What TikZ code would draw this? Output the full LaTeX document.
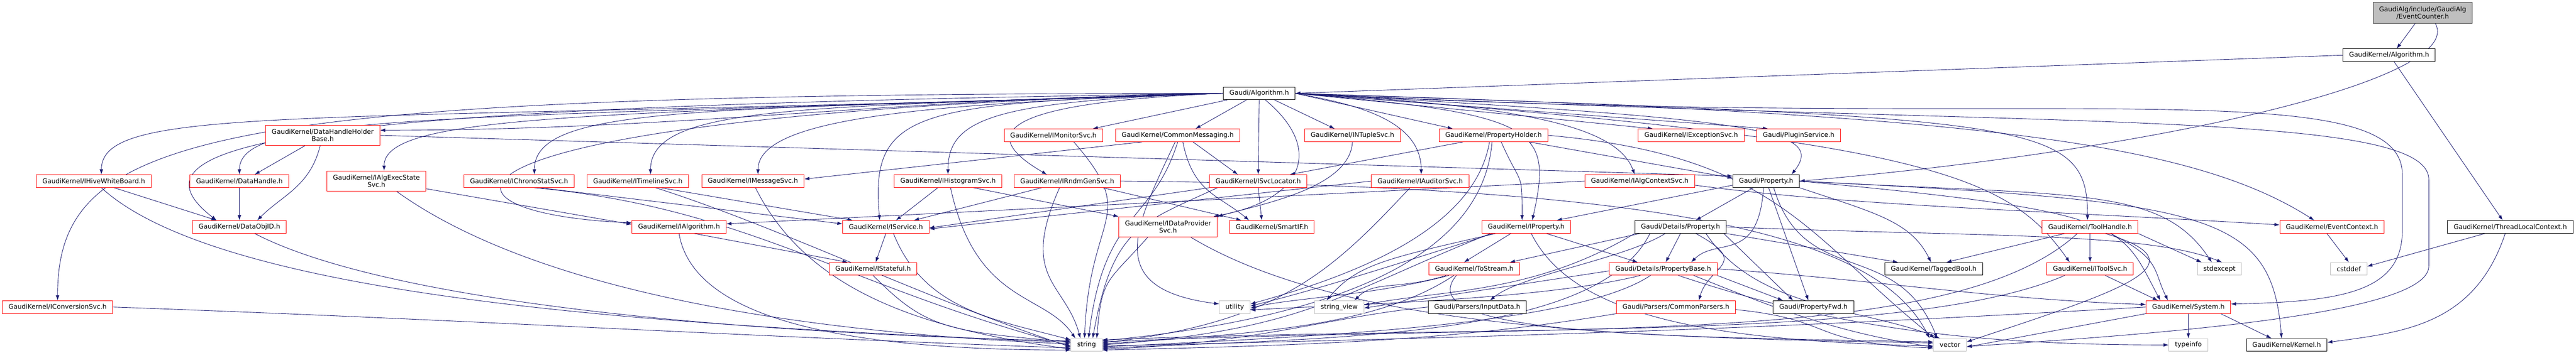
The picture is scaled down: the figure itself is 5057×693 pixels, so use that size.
\documentclass[tikz,border=0pt]{standalone}
\usepackage{fontspec}
\setmainfont{DejaVu Sans}
\usetikzlibrary{arrows.meta, backgrounds}
\definecolor{edgeblue}{RGB}{25,25,112}
\definecolor{cutred}{RGB}{255,0,0}
\tikzstyle{hdrbox} = [rectangle, draw=black, line width=1pt, fill=white, minimum height=25pt, inner xsep=12pt, inner ysep=2pt, align=center, text=black, font=\fontsize{12.8}{14.5}\selectfont]
\tikzstyle{hdrred} = [hdrbox, draw=cutred]
\tikzstyle{hdrgray} = [hdrbox, draw=black!25]
\tikzstyle{hdrmain} = [hdrbox, draw=black!75, fill=black!25, minimum height=41pt]
\tikzstyle{dep} = [draw=edgeblue, line width=0.9pt, -{Latex[length=10pt,width=7pt]}]

\begin{document}
\begin{tikzpicture}[x=1pt, y=1pt]
	\useasboundingbox (0,0) rectangle (5057,693);
	% top of the graph
	\node[hdrmain] (ec) at (4756,667.5) {GaudiAlg/include/GaudiAlg\\/EventCounter.h};
	\node[hdrbox] (gkalg) at (4690,584.5) {GaudiKernel/Algorithm.h};
	\node[hdrbox] (ga) at (2472,509.5) {Gaudi/Algorithm.h};
	% row 2
	\node[hdrred, minimum height=40pt] (dhhb) at (633.5,427) {GaudiKernel/DataHandleHolder\\Base.h};
	\node[hdrred] (imon) at (2068,427) {GaudiKernel/IMonitorSvc.h};
	\node[hdrred] (cmsg) at (2312,427) {GaudiKernel/CommonMessaging.h};
	\node[hdrred] (ntup) at (2655,427) {GaudiKernel/INTupleSvc.h};
	\node[hdrred] (phold) at (2932,427) {GaudiKernel/PropertyHolder.h};
	\node[hdrred] (iexc) at (3320,427) {GaudiKernel/IExceptionSvc.h};
	\node[hdrred] (plug) at (3531,427) {Gaudi/PluginService.h};
	% row 3
	\node[hdrred] (ihwb) at (184,337) {GaudiKernel/IHiveWhiteBoard.h};
	\node[hdrred] (dh) at (470,337) {GaudiKernel/DataHandle.h};
	\node[hdrred, minimum height=40pt] (iaes) at (739,337) {GaudiKernel/IAlgExecState\\Svc.h};
	\node[hdrred] (ichr) at (1019,337) {GaudiKernel/IChronoStatSvc.h};
	\node[hdrred] (itl) at (1252,337) {GaudiKernel/ITimelineSvc.h};
	\node[hdrred] (imsg) at (1478,337) {GaudiKernel/IMessageSvc.h};
	\node[hdrred] (ihist) at (1861,337) {GaudiKernel/IHistogramSvc.h};
	\node[hdrred] (irndm) at (2095,337) {GaudiKernel/IRndmGenSvc.h};
	\node[hdrred] (isvcl) at (2470,337) {GaudiKernel/ISvcLocator.h};
	\node[hdrred] (iaud) at (2788,337) {GaudiKernel/IAuditorSvc.h};
	\node[hdrred] (iactx) at (3219,337) {GaudiKernel/IAlgContextSvc.h};
	\node[hdrbox] (gprop) at (3467,337) {Gaudi/Property.h};
	% row 4
	\node[hdrred] (doid) at (470,247) {GaudiKernel/DataObjID.h};
	\node[hdrred] (ialg) at (1333,247) {GaudiKernel/IAlgorithm.h};
	\node[hdrred] (isvc) at (1739,247) {GaudiKernel/IService.h};
	\node[hdrred, minimum height=40pt] (idp) at (2293,247) {GaudiKernel/IDataProvider\\Svc.h};
	\node[hdrred] (sif) at (2497,247) {GaudiKernel/SmartIF.h};
	\node[hdrred] (iprop) at (2996,247) {GaudiKernel/IProperty.h};
	\node[hdrbox] (dprop) at (3299,247) {Gaudi/Details/Property.h};
	\node[hdrred] (tool) at (4103,247) {GaudiKernel/ToolHandle.h};
	\node[hdrred] (evctx) at (4578,247) {GaudiKernel/EventContext.h};
	\node[hdrbox] (tlc) at (4928,247) {GaudiKernel/ThreadLocalContext.h};
	% row 5
	\node[hdrred] (istf) at (1714,164.5) {GaudiKernel/IStateful.h};
	\node[hdrred] (tostr) at (2894,164.5) {GaudiKernel/ToStream.h};
	\node[hdrred] (pbase) at (3265,164.5) {Gaudi/Details/PropertyBase.h};
	\node[hdrbox] (tbool) at (3796,164.5) {GaudiKernel/TaggedBool.h};
	\node[hdrred] (itsvc) at (4103,164.5) {GaudiKernel/IToolSvc.h};
	\node[hdrgray] (stdexc) at (4357,164.5) {stdexcept};
	\node[hdrgray] (cstd) at (4611,164.5) {cstddef};
	% row 6
	\node[hdrred] (iconv) at (113,89.5) {GaudiKernel/IConversionSvc.h};
	\node[hdrgray] (util) at (2424,89.5) {utility};
	\node[hdrgray] (sview) at (2629,89.5) {string\_view};
	\node[hdrbox] (indata) at (2900,89.5) {Gaudi/Parsers/InputData.h};
	\node[hdrred] (cpars) at (3290,89.5) {Gaudi/Parsers/CommonParsers.h};
	\node[hdrbox] (pfwd) at (3560,89.5) {Gaudi/PropertyFwd.h};
	\node[hdrred] (sys) at (4296,89.5) {GaudiKernel/System.h};
	% bottom row
	\node[hdrgray] (str) at (2133,15) {string};
	\node[hdrgray] (vec) at (3828,15) {vector};
	\node[hdrgray] (tinfo) at (4296,15) {typeinfo};
	\node[hdrbox] (kern) at (4489,15) {GaudiKernel/Kernel.h};

	\begin{scope}[on background layer]
	% top
	\draw[dep] ([xshift=-15pt]ec.south) -- ([xshift=15pt]gkalg.north);
	\draw[dep] ([xshift=25pt]ec.south) .. controls +(60,-110) and +(700,60) .. (gprop.east);
	\draw[dep] (gkalg.west) -- (ga.east);
	\draw[dep] ([xshift=10pt]gkalg.south) -- ([xshift=-15pt]tlc.north);
	% Gaudi/Algorithm.h, to the left
	\draw[dep] (ga.west) .. controls +(-2000,0) and +(0,330) .. (iconv.north);
	\draw[dep] (ga.west) .. controls +(-1800,-60) and +(0,140) .. ([xshift=15pt]ihwb.north);
	\draw[dep] (ga.west) .. controls +(-1700,-25) and +(-220,170) .. ([xshift=-45pt]doid.north);
	\draw[dep] (ga.west) .. controls +(-1550,-50) and +(0,120) .. (dh.north);
	\draw[dep] (ga.west) .. controls +(-650,-10) and +(600,0) .. ([yshift=10pt]dhhb.east);
	\draw[dep] (ga.west) .. controls +(-1250,-40) and +(0,110) .. ([xshift=15pt]iaes.north);
	\draw[dep] (ga.west) .. controls +(-1000,-35) and +(0,140) .. ([xshift=30pt]ichr.north);
	\draw[dep] (ga.west) .. controls +(-800,-28) and +(0,140) .. ([xshift=25pt]itl.north);
	\draw[dep] (ga.west) .. controls +(-600,-20) and +(0,110) .. ([xshift=10pt]imsg.north);
	\draw[dep] (ga.west) .. controls +(-1600,-40) and +(-450,20) .. ([yshift=8pt]ialg.west);
	\draw[dep] (ga.west) .. controls +(-600,-20) and +(-20,220) .. ([xshift=-12pt]isvc.north);
	\draw[dep] (ga.west) .. controls +(-450,-15) and +(0,110) .. (ihist.north);
	\draw[dep] (ga.west) .. controls +(-480,-20) and +(-120,70) .. ([xshift=-40pt]irndm.north);
	% Gaudi/Algorithm.h, below
	\draw[dep] ([xshift=8pt]ga.south west) -- ([xshift=-20pt]imon.north east);
	\draw[dep] ([xshift=-25pt]ga.south) -- ([xshift=35pt]cmsg.north);
	\draw[dep] (ga.south) -- (isvcl.north);
	\draw[dep] ([xshift=12pt]ga.south) .. controls (2600,400) and (2560,300) .. ([xshift=-8pt]idp.north east);
	\draw[dep] ([xshift=30pt]ga.south) -- ([xshift=-35pt]ntup.north);
	% Gaudi/Algorithm.h, to the right
	\draw[dep] (ga.east) -- ([xshift=-80pt]phold.north);
	\draw[dep] (ga.east) .. controls +(110,-20) and +(0,110) .. ([xshift=2pt]iaud.north);
	\draw[dep] (ga.east) -- ([xshift=-75pt]iexc.north);
	\draw[dep] (ga.east) -- ([xshift=-60pt]plug.north);
	\draw[dep] (ga.east) .. controls +(450,-24) and +(-34,94) .. ([xshift=-10pt]iactx.north);
	\draw[dep] (ga.east) .. controls +(480,-40) and +(40,180) .. ([xshift=12pt]iprop.north);
	\draw[dep] (ga.east) .. controls +(900,-50) and +(70,90) .. ([xshift=50pt]gprop.north);
	\draw[dep] (ga.east) .. controls +(1450,-50) and +(0,200) .. ([xshift=-5pt]tool.north);
	\draw[dep] (ga.east) .. controls +(1250,-90) and +(-120,170) .. ([xshift=-40pt]itsvc.north);
	\draw[dep] (ga.east) .. controls +(1300,-40) and +(-250,160) .. ([xshift=-35pt]evctx.north);
	\draw[dep] (ga.east) .. controls (4000,430) and (4716,560) .. (4716,350) -- (4716,240) .. controls (4716,120) and (4600,100) .. ([yshift=6pt]sys.east);
	\draw[dep] (ga.east) .. controls (4000,440) and (4768,480) .. (4768,340) -- (4768,170) .. controls (4768,80) and (4300,40) .. ([yshift=-3pt]vec.east);
	% DataHandleHolderBase, DataHandle, IHiveWhiteBoard, DataObjID
	\draw[dep] ([xshift=-35pt]dhhb.south) -- ([xshift=30pt]dh.north);
	\draw[dep] ([xshift=-5pt]dhhb.south) .. controls +(-20,-80) and +(50,50) .. ([xshift=35pt]doid.north);
	\draw[dep] (dhhb.east) -- ([yshift=10pt]gprop.west);
	\draw[dep] (dh.south) -- (doid.north);
	\draw[dep] ([xshift=40pt]ihwb.south) -- ([xshift=-45pt]doid.north);
	\draw[dep] ([xshift=15pt]ihwb.south) .. controls +(250,-230) and +(-700,30) .. ([yshift=5pt]str.west);
	\draw[dep] ([xshift=30pt]doid.south) .. controls +(250,-130) and +(-700,15) .. ([yshift=8pt]str.west);
	\draw[dep] (iconv.east) .. controls +(700,-25) and +(-700,25) .. ([yshift=-6pt]str.west);
	% IAlgExecStateSvc, IChronoStatSvc, ITimelineSvc, IMessageSvc
	\draw[dep] ([yshift=-15pt]iaes.east) -- ([yshift=5pt]ialg.west);
	\draw[dep] ([xshift=40pt]iaes.south) .. controls +(250,-180) and +(-600,25) .. ([yshift=2pt]str.west);
	\draw[dep] ([xshift=40pt]ichr.south) -- ([yshift=6pt]isvc.west);
	\draw[dep] ([xshift=30pt]ichr.south) .. controls +(420,-40) and +(-450,120) .. ([yshift=-2pt]str.west);
	\draw[dep] ([xshift=45pt]itl.south) -- ([xshift=-65pt]isvc.north);
	\draw[dep] ([xshift=35pt]itl.south) .. controls +(250,-80) and +(-300,100) .. ([yshift=-4pt]str.west);
	\draw[dep] ([xshift=5pt]imsg.south) .. controls +(100,-200) and +(-300,40) .. ([yshift=-8pt]str.west);
	% IAlgorithm, IService, IStateful
	\draw[dep] ([xshift=30pt]ialg.south) -- ([xshift=-50pt]istf.north);
	\draw[dep] (ialg.south) .. controls +(30,-180) and +(-400,0) .. ([yshift=-10pt]str.west);
	\draw[dep] (isvc.south) -- ([xshift=5pt]istf.north);
	\draw[dep] ([xshift=15pt]isvc.south) .. controls +(60,-150) and +(-150,40) .. ([yshift=10pt]str.west);
	\draw[dep] (istf.south) .. controls +(100,-100) and +(-250,20) .. ([yshift=6pt]str.west);
	% IHistogramSvc, IRndmGenSvc, IMonitorSvc
	\draw[dep] ([xshift=-20pt]ihist.south) -- ([xshift=20pt]isvc.north);
	\draw[dep] ([xshift=50pt]ihist.south) -- (idp.north west);
	\draw[dep] ([xshift=5pt]ihist.south) .. controls +(50,-230) and +(-60,90) .. ([xshift=-22pt]str.north);
	\draw[dep] ([xshift=-50pt]irndm.south) -- ([xshift=55pt]isvc.north);
	\draw[dep] ([xshift=70pt]irndm.south) -- ([xshift=-60pt]sif.north);
	\draw[dep] ([xshift=-15pt]irndm.south) .. controls +(-80,-180) and +(-30,110) .. ([xshift=-12pt]str.north);
	\draw[dep] (irndm.east) .. controls +(1100,-10) and +(-100,200) .. ([xshift=-40pt]vec.north);
	\draw[dep] ([xshift=40pt]imon.south) .. controls +(130,-150) and +(10,250) .. ([xshift=-4pt]str.north);
	% CommonMessaging, ISvcLocator, IDataProviderSvc, INTupleSvc
	\draw[dep] ([xshift=-70pt]cmsg.south) -- ([yshift=4pt]imsg.east);
	\draw[dep] ([xshift=30pt]cmsg.south) -- ([xshift=-40pt]isvcl.north);
	\draw[dep] ([xshift=10pt]cmsg.south) .. controls +(20,-100) and +(-60,50) .. ([xshift=-45pt]sif.north);
	\draw[dep] (cmsg.south) .. controls +(-50,-160) and +(30,250) .. ([xshift=4pt]str.north);
	\draw[dep] ([xshift=-5pt]cmsg.south) .. controls +(-80,-170) and +(-230,30) .. ([yshift=6pt]util.west);
	\draw[dep] (isvcl.south west) -- ([yshift=-2pt]isvc.east);
	\draw[dep] (isvcl.south) -- ([xshift=-20pt]sif.north);
	\draw[dep] ([xshift=-80pt]isvcl.south) .. controls +(-150,-70) and +(40,220) .. ([xshift=12pt]str.north);
	\draw[dep] ([xshift=-40pt]idp.south) .. controls +(-80,-90) and +(10,120) .. ([xshift=20pt]str.north);
	\draw[dep] ([xshift=45pt]idp.south) .. controls +(300,-180) and +(-600,10) .. ([yshift=4pt]vec.west);
	\draw[dep] (ntup.south) .. controls +(-5,-90) and +(90,25) .. (idp.north east);
	% PropertyHolder, IAuditorSvc, IAlgContextSvc
	\draw[dep] ([xshift=15pt]phold.south) .. controls +(40,-90) and +(0,100) .. ([xshift=-8pt]iprop.north);
	\draw[dep] ([xshift=-60pt]phold.south) -- ([xshift=62pt]isvcl.north);
	\draw[dep] ([xshift=70pt]phold.south) -- ([yshift=6pt]gprop.west);
	\draw[dep] ([xshift=-8pt]phold.south) .. controls +(-30,-180) and +(180,50) .. ([yshift=6pt]util.east);
	\draw[dep] ([xshift=-3pt]phold.south) .. controls +(-20,-250) and +(400,40) .. ([yshift=8pt]str.east);
	\draw[dep] (phold.east) .. controls +(450,-40) and +(-250,200) .. ([xshift=-30pt]vec.north);
	\draw[dep] (iaud.west) -- ([yshift=-4pt]isvc.east);
	\draw[dep] ([xshift=-20pt]iaud.south) .. controls +(-150,-160) and +(350,40) .. ([yshift=4pt]str.east);
	\draw[dep] (iactx.west) -- ([yshift=6pt]ialg.east);
	\draw[dep] ([yshift=-8pt]iactx.east) .. controls +(300,-40) and +(-500,30) .. ([yshift=4pt]evctx.west);
	% IProperty
	\draw[dep] ([xshift=-30pt]iprop.south) -- ([xshift=-20pt]tostr.north);
	\draw[dep] ([xshift=40pt]iprop.south) -- ([xshift=-50pt]pbase.north);
	\draw[dep] ([xshift=-60pt]iprop.south) .. controls +(-220,-50) and +(60,70) .. ([xshift=-25pt]sview.north);
	\draw[dep] ([xshift=-70pt]iprop.south) .. controls +(-300,-120) and +(400,30) .. (str.east);
	\draw[dep] ([xshift=10pt]iprop.south) .. controls +(80,-160) and +(-450,10) .. ([yshift=-2pt]vec.west);
	\draw[dep] ([xshift=-65pt]iprop.south) .. controls +(-250,-80) and +(120,30) .. ([yshift=2pt]util.east);
	% Gaudi/Property.h
	\draw[dep] ([xshift=-25pt]gprop.south) -- ([xshift=30pt]dprop.north);
	\draw[dep] ([xshift=-5pt]gprop.south) .. controls +(-10,-150) and +(50,50) .. ([xshift=55pt]pbase.north);
	\draw[dep] (gprop.south east) .. controls +(150,-50) and +(-40,80) .. ([xshift=-5pt]tbool.north);
	\draw[dep] ([xshift=5pt]gprop.south) -- ([xshift=-10pt]pfwd.north);
	\draw[dep] ([yshift=-8pt]gprop.west) -- ([xshift=60pt]iprop.north);
	\draw[dep] (gprop.east) .. controls +(550,-30) and +(-100,150) .. ([xshift=-15pt]stdexc.north);
	\draw[dep] ([xshift=15pt]gprop.south) .. controls +(60,-200) and +(-80,200) .. ([xshift=-25pt]vec.north);
	\draw[dep] (gprop.east) .. controls +(650,-60) and +(-80,150) .. ([xshift=-55pt]sys.north);
	\draw[dep] (gprop.east) .. controls +(800,-40) and +(-20,250) .. ([xshift=-10pt]kern.north);
	% Gaudi/Details/Property.h
	\draw[dep] (dprop.south) -- ([xshift=5pt]pbase.north);
	\draw[dep] ([xshift=-80pt]dprop.south) -- ([xshift=70pt]tostr.north);
	\draw[dep] ([xshift=-30pt]dprop.south) .. controls +(-80,-50) and +(60,50) .. ([xshift=25pt]indata.north);
	\draw[dep] ([xshift=30pt]dprop.south) .. controls +(110,-60) and +(20,70) .. ([xshift=45pt]cpars.north);
	\draw[dep] (dprop.south east) -- ([xshift=-70pt]tbool.north);
	\draw[dep] ([xshift=-5pt]dprop.south east) -- ([xshift=-40pt]pfwd.north);
	\draw[dep] (dprop.south west) .. controls +(-200,-120) and +(150,30) .. ([yshift=4pt]sview.east);
	\draw[dep] (dprop.east) .. controls +(500,-20) and +(-150,60) .. ([xshift=5pt]stdexc.north);
	\draw[dep] ([xshift=-60pt]dprop.south) .. controls +(-100,-200) and +(500,20) .. ([yshift=-6pt]str.east);
	\draw[dep] ([xshift=50pt]dprop.south) .. controls +(100,-150) and +(-150,60) .. ([xshift=-20pt]vec.north);
	% ToStream, PropertyBase, parsers
	\draw[dep] ([xshift=-40pt]tostr.south) .. controls +(-150,-100) and +(300,20) .. ([yshift=2pt]str.east);
	\draw[dep] ([xshift=-55pt]tostr.south) .. controls +(-100,-30) and +(40,40) .. ([xshift=30pt]sview.north);
	\draw[dep] ([xshift=-50pt]tostr.south) .. controls +(-150,-40) and +(80,20) .. ([yshift=-2pt]util.east);
	\draw[dep] ([xshift=-35pt]tostr.south) .. controls +(-100,-120) and +(-500,10) .. ([yshift=6pt]vec.west);
	\draw[dep] (pbase.south east) -- ([xshift=-60pt]pfwd.north);
	\draw[dep] ([yshift=-4pt]pbase.west) -- ([yshift=-2pt]sview.east);
	\draw[dep] ([xshift=-25pt]pbase.south) .. controls +(-150,-100) and +(400,20) .. ([yshift=-4pt]str.east);
	\draw[dep] ([xshift=60pt]pbase.south) .. controls +(150,-60) and +(-200,30) .. ([yshift=-4pt]vec.west);
	\draw[dep] (pbase.east) .. controls +(300,-20) and +(-300,10) .. ([yshift=5pt]sys.west);
	\draw[dep] ([xshift=-45pt]pbase.south) .. controls +(-200,-50) and +(150,10) .. ([yshift=-6pt]util.east);
	\draw[dep] ([xshift=30pt]pbase.south) .. controls +(300,-100) and +(-400,0) .. (tinfo.west);
	\draw[dep] (indata.west) .. controls +(-200,-20) and +(300,10) .. ([yshift=-8pt]str.east);
	\draw[dep] (cpars.south west) .. controls +(-300,-50) and +(450,10) .. ([yshift=-10pt]str.east);
	\draw[dep] ([yshift=-5pt]cpars.east) .. controls +(200,-20) and +(-250,10) .. ([yshift=-6pt]vec.west);
	% ToolHandle, IToolSvc
	\draw[dep] ([xshift=-50pt]tool.south) -- ([xshift=25pt]tbool.north);
	\draw[dep] (tool.south) -- (itsvc.north);
	\draw[dep] ([xshift=40pt]tool.south) .. controls +(100,-50) and +(-30,60) .. ([xshift=-40pt]sys.north);
	\draw[dep] ([xshift=-25pt]tool.south) .. controls +(-250,-230) and +(900,40) .. ([yshift=6pt]str.east);
	\draw[dep] ([xshift=30pt]tool.south) .. controls +(200,-60) and +(300,100) .. ([yshift=6pt]vec.east);
	\draw[dep] (tool.south east) -- ([xshift=-35pt]stdexc.north);
	\draw[dep] ([xshift=30pt]itsvc.south) -- ([xshift=-60pt]sys.north);
	\draw[dep] ([xshift=-50pt]itsvc.south) .. controls +(-300,-130) and +(800,30) .. ([yshift=10pt]str.east);
	% System.h, ThreadLocalContext, EventContext
	\draw[dep] (sys.south) -- (tinfo.north);
	\draw[dep] ([xshift=-20pt]sys.south east) -- ([xshift=-30pt]kern.north);
	\draw[dep] (sys.west) .. controls +(-700,-40) and +(900,20) .. ([yshift=-2pt]str.east);
	\draw[dep] (sys.south west) -- ([yshift=-4pt]vec.east);
	\draw[dep] ([xshift=-50pt]tlc.south) -- ([yshift=5pt]cstd.east);
	\draw[dep] ([xshift=-10pt]tlc.south) .. controls +(-60,-180) and +(150,20) .. ([yshift=5pt]kern.east);
	\draw[dep] ([xshift=-10pt]evctx.south) -- (cstd.north);
	\end{scope}
\end{tikzpicture}
\end{document}
